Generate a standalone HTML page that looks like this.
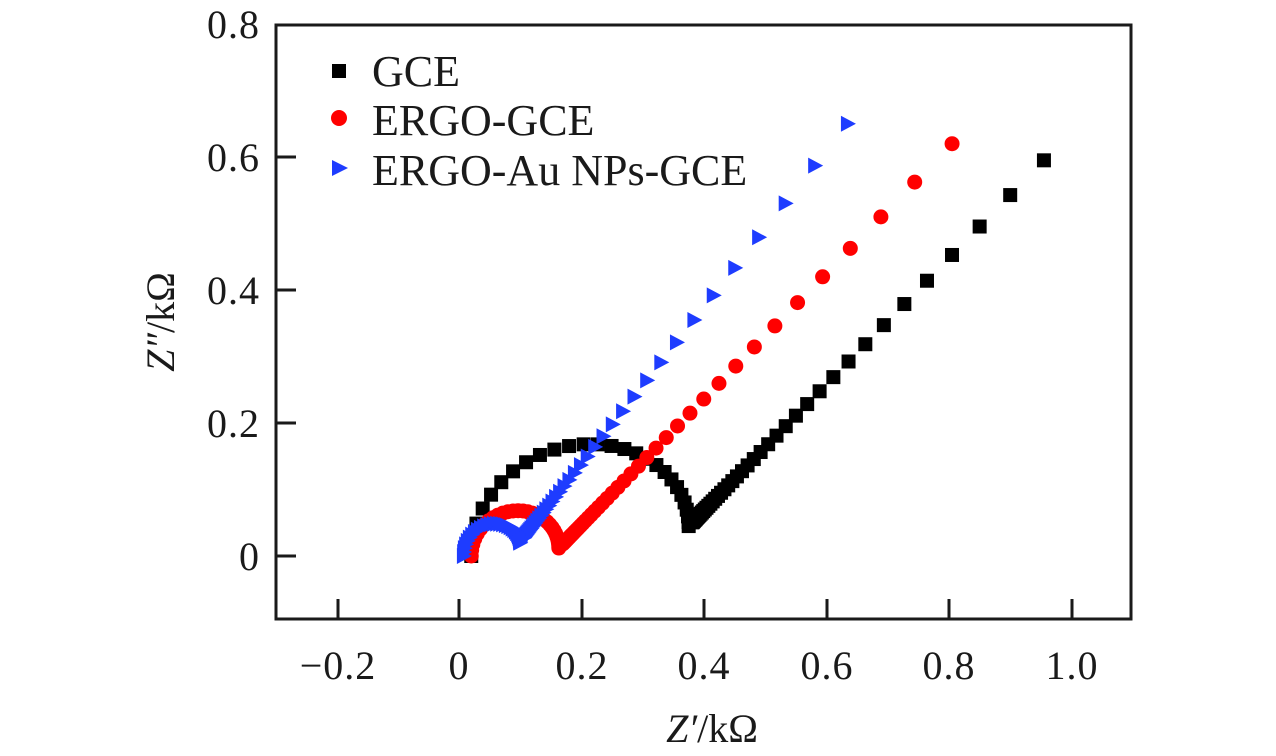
<!DOCTYPE html>
<html><head><meta charset="utf-8"><style>
html,body{margin:0;padding:0;background:#fff;}
svg{display:block;font-family:"Liberation Serif",serif;}
</style></head><body>
<svg id="s" width="1276" height="756" viewBox="0 0 1276 756" xmlns="http://www.w3.org/2000/svg">
<rect x="276" y="25" width="855" height="594" fill="none" stroke="#1a1a1a" stroke-width="3"/>
<g stroke="#1a1a1a" stroke-width="3">
<line x1="338" y1="619" x2="338" y2="599"/><line x1="459" y1="619" x2="459" y2="599"/><line x1="582" y1="619" x2="582" y2="599"/><line x1="704" y1="619" x2="704" y2="599"/><line x1="827" y1="619" x2="827" y2="599"/><line x1="949" y1="619" x2="949" y2="599"/><line x1="1072" y1="619" x2="1072" y2="599"/>
<line x1="276" y1="556" x2="296" y2="556"/><line x1="276" y1="423" x2="296" y2="423"/><line x1="276" y1="290" x2="296" y2="290"/><line x1="276" y1="157" x2="296" y2="157"/>
</g>
<g font-size="40" fill="#1a1a1a" text-anchor="middle" letter-spacing="1">
<text x="338" y="679">−0.2</text><text x="459" y="679">0</text><text x="582" y="679">0.2</text><text x="704" y="679">0.4</text><text x="827" y="679">0.6</text><text x="949" y="679">0.8</text><text x="1072" y="679">1.0</text>
</g>
<g font-size="40" fill="#1a1a1a" text-anchor="end" letter-spacing="1">
<text x="260" y="570">0</text><text x="260" y="437">0.2</text><text x="260" y="304">0.4</text><text x="260" y="171">0.6</text><text x="260" y="38">0.8</text>
</g>
<text x="712" y="742" font-size="40" text-anchor="middle" fill="#1a1a1a"><tspan font-style="italic">Z′</tspan>/kΩ</text>
<text transform="translate(174,322) rotate(-90)" font-size="40" text-anchor="middle" fill="#1a1a1a"><tspan font-style="italic">Z″</tspan>/kΩ</text>
<g id="d"></g>
<rect x="332" y="64" width="14" height="14" fill="#000"/>
<circle cx="339" cy="118" r="8" fill="#f00"/>
<polygon points="332,160 348,168 332,176" fill="#1e3cff"/>
<g font-size="44" fill="#1a1a1a">
<text x="372" y="86">GCE</text><text x="372" y="135">ERGO-GCE</text><text x="372" y="185">ERGO-Au NPs-GCE</text>
</g>
</svg>
<script>
var g=document.getElementById('d'),NS='http://www.w3.org/2000/svg';
function X(v){return 459+v*612.5;}function Y(v){return 556-v*665;}
function series(x0,xm,ym,xe,ye,h,type,color,r,nArc){
 var pts=[];
 var dx=xe-xm,dy=ye-ym,d=1;
 while(d>0.01){pts.push([xm+dx*d,ym+dy*d]);d*=r;}
 var c=(x0+xm)/2,R=(xm-x0)/2;
 for(var i=0;i<=nArc;i++){var t=Math.pow(i/nArc,1.3);var a=t*Math.PI;
  pts.push([c+R*Math.cos(a),ym*(1-t)+h*Math.sin(a)]);}
 pts.forEach(function(p){var x=X(p[0]),y=Y(p[1]),e;
  if(type=='s'){e=document.createElementNS(NS,'rect');e.setAttribute('x',x-7);e.setAttribute('y',y-7);e.setAttribute('width',14);e.setAttribute('height',14);}
  else if(type=='c'){e=document.createElementNS(NS,'circle');e.setAttribute('cx',x);e.setAttribute('cy',y);e.setAttribute('r',7.5);}
  else{e=document.createElementNS(NS,'polygon');e.setAttribute('points',(x-7)+','+(y-8)+' '+(x+8)+','+y+' '+(x-7)+','+(y+8));}
  e.setAttribute('fill',color);g.appendChild(e);});
}
series(0.02,0.375,0.045,0.955,0.595,0.145,'s','#000',0.905,26);
series(0.02,0.163,0.012,0.805,0.62,0.062,'c','#f00',0.905,30);
series(0.008,0.1,0.02,0.635,0.65,0.038,'t','#1e3cff',0.9,30);
</script>
</body></html>
